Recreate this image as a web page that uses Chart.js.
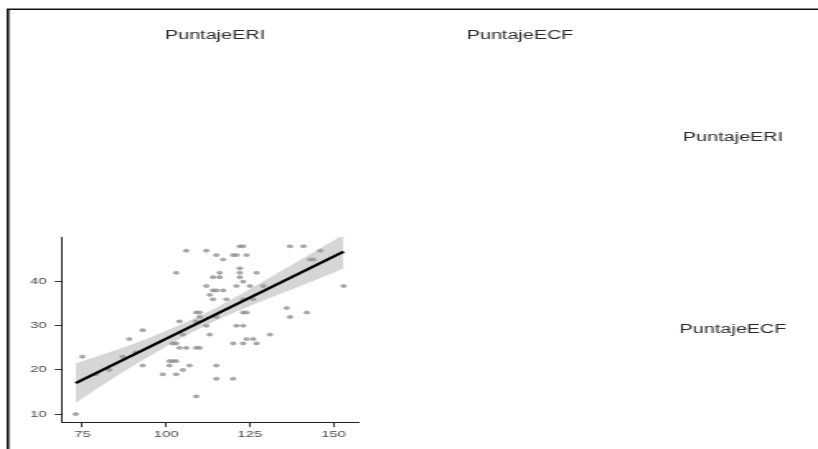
<!DOCTYPE html>
<html>
<head>
<meta charset="utf-8">
<script src="https://cdn.jsdelivr.net/npm/chart.js@4/dist/chart.umd.min.js"></script>
<style>
    html, body { margin: 0; padding: 0; background: #fff; }
    #wrap { width: 818px; height: 449px; overflow: hidden; position: relative; }
    #pares { transform-origin: 0 0; }
</style>
</head>
<body>
<div id="wrap">
    <canvas id="pares" width="496" height="449"></canvas>
</div>
<script>
// ancho real de dibujo y estiramiento horizontal de la figura
const ANCHO = 496;
const ESTIRA = 818 / ANCHO;
document.getElementById("pares").style.transform = "scaleX(" + ESTIRA + ")";

const variables = ["PuntajeERI", "PuntajeECF"];

// puntajes observados (x = PuntajeERI, y = PuntajeECF)
const puntajeERI = [
    122, 123, 137, 141,
    106, 112, 146,
    115, 120, 121, 124,
    117, 143, 144,
    122,
    103, 116, 122, 127,
    114, 116, 122,
    123,
    112, 121, 125, 129, 153,
    114, 115, 117,
    113,
    114, 118, 123, 126,
    136,
    109, 110, 123, 124, 142,
    110, 115, 137,
    104, 109,
    112, 121, 123,
    93,
    105, 113, 131,
    89, 124, 126,
    102, 103, 120, 123, 127,
    104, 106, 109, 110,
    91,
    75, 87,
    101, 102, 103,
    93, 101, 107, 115,
    83, 105,
    79, 99, 103,
    115, 120,
    109,
    73,
];
const puntajeECF = [
    48, 48, 48, 48,
    47, 47, 47,
    46, 46, 46, 46,
    45, 45, 45,
    43,
    42, 42, 42, 42,
    41, 41, 41,
    40,
    39, 39, 39, 39, 39,
    38, 38, 38,
    37,
    36, 36, 36, 36,
    34,
    33, 33, 33, 33, 33,
    32, 32, 32,
    31, 31,
    30, 30, 30,
    29,
    28, 28, 28,
    27, 27, 27,
    26, 26, 26, 26, 26,
    25, 25, 25, 25,
    24,
    23, 23,
    22, 22, 22,
    21, 21, 21, 21,
    20, 20,
    19, 19, 19,
    18, 18,
    14,
    10,
];

// recta ajustada y su banda de confianza
const rectaX = [73, 153];
const rectaY = [17.0, 46.8];
const bandaX = [73, 85, 95, 105, 115, 125, 135, 145, 153];
const bandaSup = [21.5, 24.5, 27.3, 30.5, 34.1, 38.3, 42.7, 47.1, 50.65];
const bandaInf = [12.5, 18.5, 23.1, 27.4, 31.2, 34.5, 37.5, 40.5, 42.95];

const ticksX = [75, 100, 125, 150];
const ticksY = [10, 20, 30, 40];

const pares = (xs, ys) => xs.map((x, i) => ({ x: x, y: ys[i] }));

// marco y rótulos de las variables en la diagonal
const rotulos = {
    id: "rotulos",
    afterDraw(chart) {
        const ctx = chart.ctx;
        ctx.save();
        ctx.strokeStyle = "#111";
        ctx.lineWidth = 1.6;
        ctx.beginPath();
        ctx.moveTo(8 / ESTIRA, 449);
        ctx.lineTo(8 / ESTIRA, 9.3);
        ctx.lineTo(ANCHO, 9.3);
        ctx.stroke();

        ctx.fillStyle = "#2b2b2b";
        ctx.font = "12px 'Liberation Sans', Arial, sans-serif";
        ctx.textAlign = "center";
        ctx.textBaseline = "middle";
        ctx.fillText(variables[0], 215 / ESTIRA, 36);
        ctx.fillText(variables[1], 520 / ESTIRA, 36);
        ctx.fillText(variables[0], 733 / ESTIRA, 137.5);
        ctx.fillText(variables[1], 733 / ESTIRA, 330);
        ctx.restore();
    },
};

new Chart(document.getElementById("pares"), {
    type: "scatter",
    data: {
        datasets: [
            {
                label: "puntos",
                data: pares(puntajeERI, puntajeECF),
                pointRadius: 1.6,
                pointBackgroundColor: "rgba(150,150,150,0.8)",
                pointBorderColor: "rgba(120,120,120,0.8)",
                pointBorderWidth: 0.5,
                order: 3,
            },
            {
                label: "banda superior",
                data: pares(bandaX, bandaSup),
                showLine: true,
                pointRadius: 0,
                borderWidth: 0,
                borderColor: "rgba(0,0,0,0)",
                backgroundColor: "rgba(153,153,153,0.4)",
                fill: "+1",
                cubicInterpolationMode: "monotone",
                order: 2,
            },
            {
                label: "banda inferior",
                data: pares(bandaX, bandaInf),
                showLine: true,
                pointRadius: 0,
                borderWidth: 0,
                borderColor: "rgba(0,0,0,0)",
                fill: false,
                cubicInterpolationMode: "monotone",
                order: 2,
            },
            {
                label: "recta",
                data: pares(rectaX, rectaY),
                showLine: true,
                pointRadius: 0,
                borderColor: "#000",
                borderWidth: 2.4,
                fill: false,
                order: 1,
            },
        ],
    },
    options: {
        responsive: false,
        animation: false,
        events: [],
        layout: { padding: { left: 0, top: 237, right: ANCHO - 358 / ESTIRA, bottom: 0 } },
        scales: {
            x: {
                type: "linear",
                min: 69,
                max: 157.3,
                afterBuildTicks: (s) => { s.ticks = ticksX.map((v) => ({ value: v })); },
                afterFit: (s) => { s.height = 26.3; },
                grid: { display: true, drawOnChartArea: false, drawTicks: true, tickLength: 4.4, tickColor: "#333", tickWidth: 1 },
                border: { display: true, color: "#222", width: 1 },
                ticks: {
                    padding: 2,
                    color: "#4d4d4d",
                    font: { family: "'Liberation Sans', Arial, sans-serif", size: 9 },
                },
            },
            y: {
                type: "linear",
                min: 8.05,
                max: 50.1,
                afterBuildTicks: (s) => { s.ticks = ticksY.map((v) => ({ value: v })); },
                afterFit: (s) => { s.width = 62.3 / ESTIRA; },
                grid: { display: true, drawOnChartArea: false, drawTicks: true, tickLength: 4.6, tickColor: "#333", tickWidth: 1 },
                border: { display: true, color: "#222", width: 1 },
                ticks: {
                    padding: 5,
                    color: "#4d4d4d",
                    font: { family: "'Liberation Sans', Arial, sans-serif", size: 9 },
                },
            },
        },
        plugins: {
            legend: { display: false },
            tooltip: { enabled: false },
        },
    },
    plugins: [rotulos],
});
</script>
</body>
</html>
